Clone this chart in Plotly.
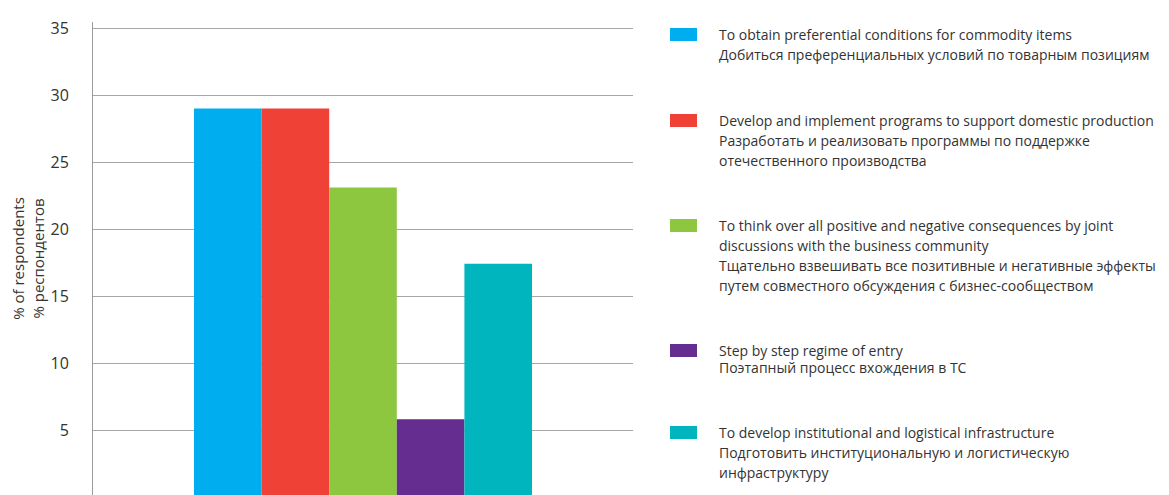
import plotly.graph_objects as go

# ---- data ----
categories_en = [
    "To obtain preferential conditions for commodity items",
    "Develop and implement programs to support domestic production",
    "To think over all positive and negative consequences by joint\ndiscussions with the business community",
    "Step by step regime of entry",
    "To develop institutional and logistical infrastructure",
]
categories_ru = [
    "Добиться преференциальных условий по товарным позициям",
    "Разработать и реализовать программы по поддержке\nотечественного производства",
    "Тщательно взвешивать все позитивные и негативные эффекты\nпутем совместного обсуждения с бизнес-сообществом",
    "Поэтапный процесс вхождения в ТС",
    "Подготовить институциональную и логистическую\nинфраструктуру",
]
values = [29.0, 29.0, 23.1, 5.8, 17.4]
colors = ["#00AEEF", "#EF4136", "#8DC63F", "#662D91", "#00B5BD"]
y_ticks = [0, 5, 10, 15, 20, 25, 30, 35]

# ---- layout geometry (page pixels; page body has an 8px margin) ----
OFF = 8
W, H = 1169 - OFF, 495 - OFF
L, R, T, B = 93 - OFF, 633 - OFF, 22 - OFF, 495 - OFF


def px(x):
    return (x - OFF - L) / (R - L)


def py(y):
    return (B - (y - OFF)) / (B - T)


FONT = "Open Sans"
TXT = "#333333"

fig = go.Figure()
for i in range(len(values)):
    fig.add_trace(go.Bar(
        x=[""], y=[values[i]], name=categories_en[i].replace("\n", " "),
        marker=dict(color=colors[i], line=dict(width=0)),
        showlegend=False,
    ))

# legend (custom)
legend_top = [28, 114, 219, 344, 426]
line_gap = [20, 20, 20, 17, 20]
shapes = []
annotations = []
for i in range(len(values)):
    top = legend_top[i]
    shapes.append(dict(type="rect", xref="paper", yref="paper",
                       x0=px(670), x1=px(697), y0=py(top + 13), y1=py(top),
                       fillcolor=colors[i], line=dict(width=0)))
    lines = categories_en[i].split("\n") + categories_ru[i].split("\n")
    for j, ln in enumerate(lines):
        yc = top + 6.5 + j * line_gap[i]
        annotations.append(dict(text=ln, xref="paper", yref="paper",
                                x=px(717), y=py(yc), xanchor="left", yanchor="middle",
                                showarrow=False,
                                font=dict(family=FONT, size=14, color=TXT)))

fig.update_layout(
    width=W, height=H,
    margin=dict(l=L, r=W - R, t=T, b=H - B, pad=0),
    paper_bgcolor="white", plot_bgcolor="white",
    barmode="group", bargap=0.374, bargroupgap=0,
    shapes=shapes, annotations=annotations,
    font=dict(family=FONT, color=TXT),
    xaxis=dict(showticklabels=False, showgrid=False, zeroline=False, showline=False,
               fixedrange=True),
    yaxis=dict(range=[0.149, 35.45], tickvals=y_ticks, ticktext=[str(v) for v in y_ticks],
               showgrid=True, gridcolor="#a6a6a6", gridwidth=1.3,
               zeroline=False, showline=True, linecolor="#9a9a9a", linewidth=1,
               ticks="", ticklabelstandoff=20,
               tickfont=dict(family=FONT, size=16, color=TXT),
               title=dict(text="% of respondents<br>% респондентов",
                          font=dict(family=FONT, size=15, color=TXT), standoff=14)),
)

fig.write_html("out.html")
